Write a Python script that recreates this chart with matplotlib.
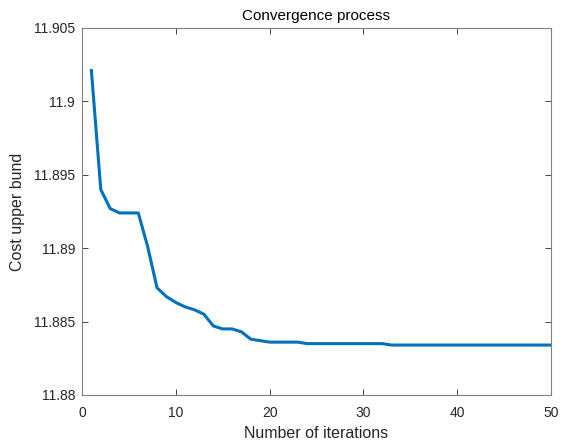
import numpy as np
import matplotlib
matplotlib.use("Agg")
import matplotlib.pyplot as plt
from matplotlib.ticker import FixedLocator, FuncFormatter

# Dados
iterations = list(range(1, 51))
cost_upper = [11.9021, 11.8940, 11.8927, 11.8924, 11.8924, 11.8924, 11.8901, 11.8873,
              11.8867, 11.8863, 11.8860, 11.8858, 11.8855, 11.8847, 11.8845, 11.8845,
              11.8843, 11.8838, 11.8837, 11.8836, 11.8836, 11.8836, 11.8836, 11.8835,
              11.8835, 11.8835, 11.8835, 11.8835, 11.8835, 11.8835, 11.8835, 11.8835,
              11.8834, 11.8834, 11.8834, 11.8834, 11.8834, 11.8834, 11.8834, 11.8834,
              11.8834, 11.8834, 11.8834, 11.8834, 11.8834, 11.8834, 11.8834, 11.8834,
              11.8834, 11.8834]
x_ticks = [0, 10, 20, 30, 40, 50]
y_ticks = [11.88, 11.885, 11.89, 11.895, 11.9, 11.905]

plt.rcParams['font.family'] = ['Liberation Sans', 'DejaVu Sans']
axis_gray = '#262626'

fig = plt.figure(figsize=(5.68, 4.44), dpi=100)
ax = fig.add_axes([0.1444, 0.1104, 0.8256, 0.8266])
ax.plot(iterations, cost_upper, color='#0072BD', linewidth=2.2)

ax.set_xlim(0, 50)
ax.set_ylim(11.88, 11.905)
ax.xaxis.set_major_locator(FixedLocator(x_ticks))
ax.yaxis.set_major_locator(FixedLocator(y_ticks))
ax.yaxis.set_major_formatter(FuncFormatter(lambda v, p: '%g' % round(v, 4)))
ax.tick_params(direction='in', top=True, right=True, length=4, width=0.6,
               colors=axis_gray, labelsize=10, labelcolor=axis_gray)
ax.tick_params(axis='x', pad=8)
ax.tick_params(axis='y', pad=5)
for s in ax.spines.values():
    s.set_color('#808080')
    s.set_linewidth(0.8)

ax.set_title('Convergence process', fontsize=11, color='black', pad=6)
ax.set_xlabel('Number of iterations', fontsize=11.5, color=axis_gray, labelpad=4)
ax.set_ylabel('Cost upper bund', fontsize=11.5, color=axis_gray, labelpad=6)

fig.savefig('out.png', dpi=100)
